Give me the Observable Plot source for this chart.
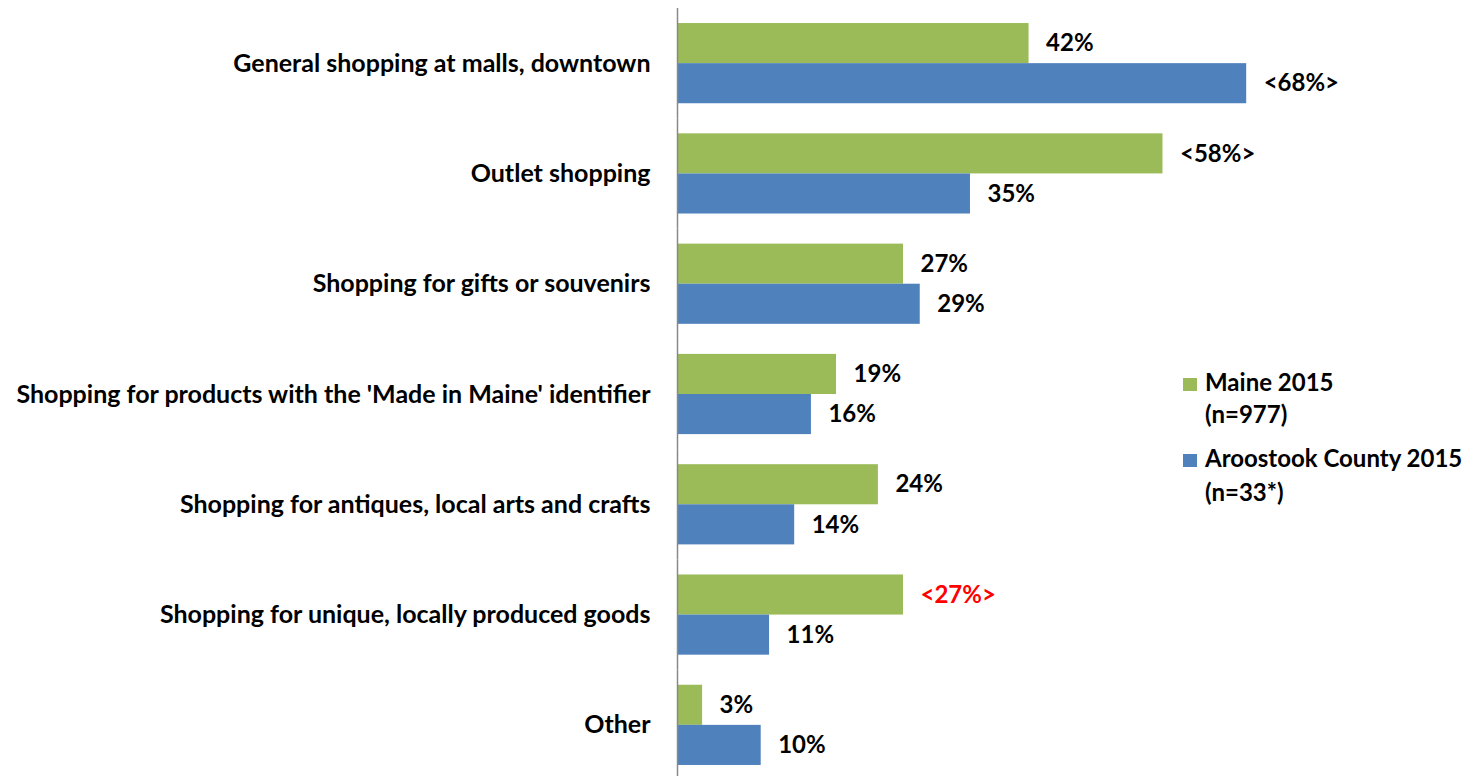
<!DOCTYPE html>
<html><head><meta charset="utf-8">
<script src="https://cdn.jsdelivr.net/npm/d3@7"></script>
<script src="https://cdn.jsdelivr.net/npm/@observablehq/plot@0.6"></script>
<style>
body{margin:0;background:#fff;}
#wrap{position:relative;width:1468px;height:776px;font-family:Lato,"Open Sans",sans-serif;font-weight:bold;color:#000;}
.lg-sw{position:absolute;width:14px;height:13px;}
.lg-t{position:absolute;font-size:24px;line-height:28px;white-space:nowrap;}
</style></head><body><div id="wrap"></div>
<script>
const categories = [
  "General shopping at malls, downtown",
  "Outlet shopping",
  "Shopping for gifts or souvenirs",
  "Shopping for products with the 'Made in Maine' identifier",
  "Shopping for antiques, local arts and crafts",
  "Shopping for unique, locally produced goods",
  "Other"
];
const seriesNames = ["Maine 2015", "Aroostook County 2015"];
const seriesNotes = ["(n=977)", "(n=33*)"];
const seriesColors = ["#9BBB59", "#4F81BD"];
const maineValues = [42, 58, 27, 19, 24, 27, 3];
const aroostookValues = [68, 35, 29, 16, 14, 11, 10];
const maineLabels = ["42%", "<58%>", "27%", "19%", "24%", "<27%>", "3%"];
const aroostookLabels = ["<68%>", "35%", "29%", "16%", "14%", "11%", "10%"];
const maineRed = [false, false, false, false, false, true, false];
const aroostookRed = [false, false, false, false, false, false, false];

const rows = [];
categories.forEach((c, i) => {
  rows.push({category: c, series: seriesNames[0], value: maineValues[i], label: maineLabels[i], red: maineRed[i]});
  rows.push({category: c, series: seriesNames[1], value: aroostookValues[i], label: aroostookLabels[i], red: aroostookRed[i]});
});

const FS = 24;
const chart = Plot.plot({
  width: 1468, height: 776,
  marginLeft: 677, marginRight: 0, marginTop: 8, marginBottom: 0,
  style: {fontFamily: "Lato, 'Open Sans', sans-serif", fontSize: FS + "px", fontWeight: "bold", color: "#000", background: "#fff"},
  x: {domain: [0, 94.5], axis: null},
  fy: {domain: categories, padding: 0, round: false, range: [8, 780], axis: null},
  y: {domain: seriesNames, paddingInner: 0, paddingOuter: 0.375, round: false, axis: null},
  color: {domain: seriesNames, range: seriesColors},
  marks: [
    Plot.axisFy({anchor: "left", tickSize: 0, tickPadding: 27, label: null, fontSize: 25, fontWeight: "bold"}),
    Plot.barX(rows, {fy: "category", y: "series", x: "value", fill: "series"}),
    Plot.text(rows.filter(d => !d.red), {fy: "category", y: "series", x: "value", text: "label", dx: 17, textAnchor: "start", fill: "#000"}),
    Plot.text(rows.filter(d => d.red), {fy: "category", y: "series", x: "value", text: "label", dx: 17, textAnchor: "start", fill: "#FF0000"}),
    Plot.ruleX([0], {stroke: "#888888", strokeWidth: 1.5})
  ]
});
const wrap = document.getElementById("wrap");
wrap.appendChild(chart);

const legendTops = [368, 444];
const noteTops = [400, 478];
seriesNames.forEach((s, i) => {
  const sw = document.createElement("div");
  sw.className = "lg-sw";
  sw.style.left = "1183px"; sw.style.top = (legendTops[i] + 10) + "px";
  sw.style.background = seriesColors[i];
  wrap.appendChild(sw);
  const t1 = document.createElement("div");
  t1.className = "lg-t"; t1.style.left = "1205px"; t1.style.top = legendTops[i] + "px";
  t1.textContent = s;
  wrap.appendChild(t1);
  const t2 = document.createElement("div");
  t2.className = "lg-t"; t2.style.left = "1205px"; t2.style.top = noteTops[i] + "px";
  t2.textContent = seriesNotes[i];
  wrap.appendChild(t2);
});
</script></body></html>
